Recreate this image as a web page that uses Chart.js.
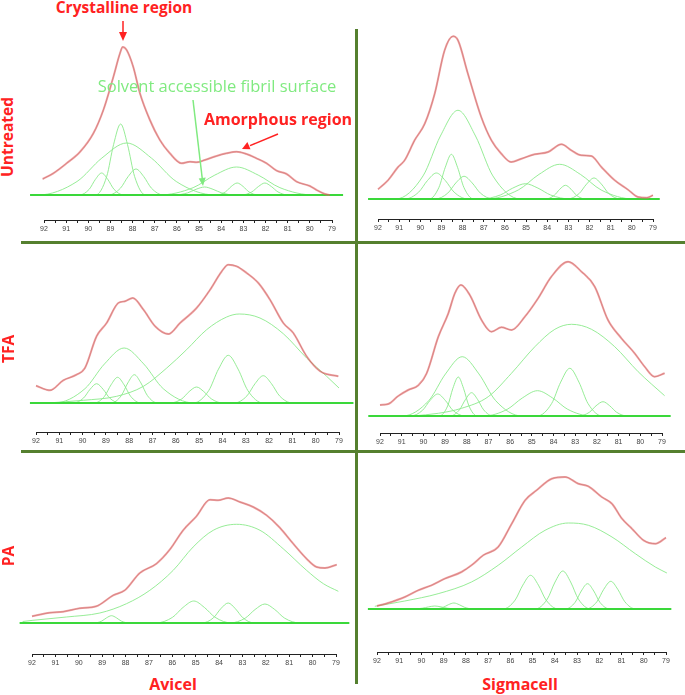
<!DOCTYPE html>
<html>
<head>
<meta charset="utf-8">
<script src="https://cdn.jsdelivr.net/npm/chart.js@4.4.0/dist/chart.umd.min.js"></script>
<style>
  body { margin: 0; background: #fff; }
  #stage { position: relative; width: 685px; height: 695px; overflow: hidden; font-family: 'Open Sans', Lato, sans-serif; }
  #stage canvas { position: absolute; }
  .lbl { position: absolute; white-space: nowrap; line-height: 1; transform: translate(-50%, -50%); z-index: 5; }
  .red { color: #ff2222; font-weight: bold; }
  .rot { transform: translate(-50%, -50%) rotate(-90deg); }
  .rule { position: absolute; background: #55802f; z-index: 4; }
  svg { position: absolute; left: 0; top: 0; z-index: 6; }
</style>
</head>
<body>
<div id="stage"></div>
<script>
/* ============================================================
   13C NMR C4 region – deconvolution of Avicel / Sigmacell
   ============================================================ */

// axis (ppm, drawn high → low)
const ppmTicks = [92, 79];
const rowLabels = ['Untreated', 'TFA', 'PA'];
const columnLabels = ['Avicel', 'Sigmacell'];

// ─── Untreated / Avicel ─────────────────────────────────
const avicelUntreatedFit = [[92.06,16],[91.58,21.7],[90.98,31.7],[90.38,43],[89.77,61.7],[89.32,85],[88.87,118],[88.57,141.7],[88.45,148],[88.27,145],[87.97,128],[87.67,101.7],[87.22,75],[86.77,55],[86.32,41.7],[85.79,31.7],[85.41,33.3],[85.11,32.7],[84.74,35],[84.21,39],[83.76,41.7],[83.31,43.3],[82.86,41],[82.41,36.7],[81.95,31.7],[81.5,24.3],[81.05,21],[80.6,13.3],[80.0,9],[79.7,5],[79.32,1],[79.1,0]];
const avicelUntreatedBase = [[92.63,0],[78.5,0]];
const avicelUntreatedPeaks = [
  [[90.68,0],[90.4,0],[89.96,5.7],[89.68,15.6],[89.4,22],[89.12,15.6],[88.84,5.7],[88.4,0],[88.12,0]],
  [[89.98,0],[89.67,0],[89.17,18.5],[88.86,50.4],[88.54,71],[88.23,50.4],[87.91,18.5],[87.42,0],[87.1,0]],
  [[92.6,0],[92.27,0],[90.51,13.5],[89.39,36.9],[88.27,52],[87.15,36.9],[86.03,13.5],[84.27,0],[83.15,0]],
  [[89.45,0],[89.1,0],[88.55,6.8],[88.2,18.5],[87.85,26],[87.5,18.5],[87.15,6.8],[86.6,0],[86.25,0]],
  [[86.51,0],[86.13,0],[85.52,2.1],[85.14,5.7],[84.75,8],[84.37,5.7],[83.98,2.1],[83.38,0],[82.99,0]],
  [[87.79,0],[86.81,0],[85.27,7.3],[84.29,19.9],[83.31,28],[82.33,19.9],[81.35,7.3],[79.81,0],[78.83,0]],
  [[84.5,0],[84.23,0],[83.81,3.1],[83.55,8.5],[83.28,12],[83.01,8.5],[82.75,3.1],[82.33,0],[82.06,0]],
  [[83.37,0],[83.08,0],[82.62,3.1],[82.32,8.5],[82.03,12],[81.74,8.5],[81.44,3.1],[80.98,0],[80.69,0]],
];

// ─── Untreated / Sigmacell ──────────────────────────────
const sigmaUntreatedFit = [[92.0,9.7],[91.53,18.7],[91.05,32],[90.74,38.7],[90.27,58.7],[89.79,75.3],[89.32,105.3],[88.85,148.7],[88.45,162.7],[88.22,158.7],[87.75,125.3],[87.12,82],[86.64,58.7],[86.17,45.3],[85.7,37],[85.22,40.3],[84.59,44.7],[83.96,47],[83.33,54.7],[82.86,48.7],[82.39,43.7],[81.92,43],[81.44,32],[80.81,18.7],[80.18,9.3],[79.71,2],[79.31,1.3],[79.0,3.7]];
const sigmaUntreatedBase = [[92.47,0],[78.68,0]];
const sigmaUntreatedPeaks = [
  [[91.16,0],[90.74,0],[90.08,6.8],[89.66,18.5],[89.24,26],[88.82,18.5],[88.4,6.8],[87.74,0],[87.32,0]],
  [[89.87,0],[89.58,0],[89.12,11.6],[88.82,31.7],[88.53,44.7],[88.24,31.7],[87.94,11.6],[87.48,0],[87.19,0]],
  [[92.0,0],[91.17,0],[89.87,23.1],[89.05,63],[88.22,88.7],[87.39,63],[86.57,23.1],[85.27,0],[84.44,0]],
  [[89.69,0],[89.31,0],[88.7,5.9],[88.32,16.1],[87.93,22.7],[87.55,16.1],[87.16,5.9],[86.56,0],[86.17,0]],
  [[87.75,0],[87.16,0],[86.22,4.0],[85.63,10.9],[85.03,15.3],[84.44,10.9],[83.84,4.0],[82.91,0],[82.31,0]],
  [[87.89,0],[86.91,0],[85.37,9.0],[84.39,24.6],[83.41,34.7],[82.43,24.6],[81.45,9.0],[79.91,0],[78.93,0]],
  [[84.36,0],[84.09,0],[83.67,3.6],[83.41,9.7],[83.14,13.7],[82.87,9.7],[82.61,3.6],[82.19,0],[81.92,0]],
  [[83.39,0],[83.04,0],[82.49,5.5],[82.14,14.9],[81.79,21],[81.44,14.9],[81.09,5.5],[80.54,0],[80.19,0]],
];

// ─── TFA / Avicel ───────────────────────────────────────
const avicelTfaFit = [[92.0,17.3],[91.4,12.7],[90.83,22.7],[90.26,28.3],[89.9,35],[89.4,66.7],[88.97,80],[88.47,100],[88.18,101.7],[87.85,105],[87.39,93.3],[86.89,76.7],[86.32,69],[85.82,80],[85.11,95],[84.53,113.3],[84.03,131.7],[83.75,138.3],[83.39,136.7],[82.96,130],[82.46,120],[81.96,103.3],[81.39,80],[80.96,70],[80.39,46.7],[79.81,31.7],[79.03,26.7]];
const avicelTfaBase = [[92.26,0],[78.38,0]];
const avicelTfaPeaks = [
  [[90.68,0],[90.4,0],[89.96,5.0],[89.68,13.7],[89.4,19.3],[89.12,13.7],[88.84,5.0],[88.4,0],[88.12,0]],
  [[89.78,0],[89.5,0],[89.06,6.7],[88.78,18.2],[88.5,25.7],[88.22,18.2],[87.94,6.7],[87.5,0],[87.22,0]],
  [[92.06,0],[91.22,0],[89.9,14.3],[89.06,39.1],[88.22,55],[87.38,39.1],[86.54,14.3],[85.22,0],[84.38,0]],
  [[89.06,0],[88.78,0],[88.34,7.4],[88.06,20.1],[87.78,28.3],[87.5,20.1],[87.22,7.4],[86.78,0],[86.5,0]],
  [[86.55,0],[86.24,0],[85.74,4.2],[85.43,11.4],[85.11,16],[84.8,11.4],[84.48,4.2],[83.99,0],[83.67,0]],
  [[91.5,0],[89.97,2.7],[88.54,6.7],[87.39,16.7],[86.39,35],[85.54,53.3],[84.68,73.3],[83.82,86],[83.28,89],[82.39,85],[81.39,69.3],[80.39,45],[79.53,26.7],[79.0,15]],
  [[85.67,0],[85.25,0],[84.59,12.4],[84.17,33.9],[83.75,47.7],[83.33,33.9],[82.91,12.4],[82.25,0],[81.83,0]],
  [[83.85,0],[83.5,0],[82.95,7.1],[82.6,19.4],[82.25,27.3],[81.9,19.4],[81.55,7.1],[81.0,0],[80.65,0]],
];

// ─── TFA / Sigmacell ────────────────────────────────────
const sigmaTfaFit = [[92.0,11],[91.62,12],[91.16,20],[90.7,26],[90.23,30.7],[89.85,42.7],[89.31,79.3],[88.85,102.7],[88.55,122.7],[88.27,131],[87.86,121],[87.32,96],[86.86,84.3],[86.4,88.7],[85.94,86],[85.32,99.3],[84.71,117.7],[84.1,139.3],[83.33,154.3],[82.71,144.3],[82.1,129.3],[81.49,96],[80.87,77.7],[80.26,62.7],[79.8,49.3],[79.34,39.3],[78.88,42.7]];
const sigmaTfaBase = [[92.54,0],[78.6,0]];
const sigmaTfaPeaks = [
  [[90.94,0],[90.59,0],[90.04,5.7],[89.69,15.6],[89.34,22],[88.99,15.6],[88.64,5.7],[88.09,0],[87.74,0]],
  [[89.51,0],[89.27,0],[88.88,10.1],[88.64,27.7],[88.39,39],[88.15,27.7],[87.9,10.1],[87.52,0],[87.27,0]],
  [[91.73,0],[90.96,0],[89.75,15.4],[88.98,42.1],[88.21,59.3],[87.44,42.1],[86.67,15.4],[85.46,0],[84.69,0]],
  [[89.06,0],[88.78,0],[88.34,6.1],[88.06,16.5],[87.78,23.3],[87.5,16.5],[87.22,6.1],[86.78,0],[86.5,0]],
  [[87.94,0],[87.24,0],[86.14,6.6],[85.44,18],[84.74,25.3],[84.04,18],[83.34,6.6],[82.24,0],[81.54,0]],
  [[90.5,0],[89.31,2.7],[88.24,7.7],[87.01,19.3],[85.94,42.7],[84.86,69.3],[83.94,86.7],[83.17,91.7],[82.25,86.7],[81.18,69.3],[80.1,44.3],[78.88,20.3]],
  [[85.17,0],[84.75,0],[84.09,12.4],[83.67,33.9],[83.25,47.7],[82.83,33.9],[82.41,12.4],[81.75,0],[81.33,0]],
  [[83.16,0],[82.85,0],[82.35,3.7],[82.04,10.2],[81.72,14.3],[81.41,10.2],[81.09,3.7],[80.6,0],[80.28,0]],
];

// ─── PA / Avicel ────────────────────────────────────────
const avicelPaFit = [[92.0,6.7],[91.24,10.3],[90.67,11.3],[89.96,14.7],[89.25,16.7],[88.53,27.7],[88.03,32.7],[87.39,50],[86.68,59.3],[86.11,73.3],[85.54,92.7],[84.97,106.7],[84.39,123.3],[84.04,122.7],[83.61,125],[83.11,121],[82.54,116],[81.97,107.7],[81.4,95.3],[80.83,79.3],[80.26,64.3],[79.83,56],[79.47,55],[78.97,58.3]];
const avicelPaBase = [[92.53,0],[78.43,0]];
const avicelPaPeaks = [
  [[92.4,1.5],[91.96,2.7],[90.53,6],[89.1,10],[87.96,19.3],[86.96,32.7],[85.96,52.7],[85.11,76],[84.25,92.7],[83.25,98.7],[82.25,92.7],[81.26,74.3],[80.26,52.7],[79.54,39.3],[78.9,31.7]],
  [[89.56,0],[89.35,0],[89.02,1.9],[88.81,5.2],[88.6,7.3],[88.39,5.2],[88.18,1.9],[87.85,0],[87.64,0]],
  [[87.16,0],[86.71,0],[85.99,5.7],[85.54,15.6],[85.08,22],[84.63,15.6],[84.17,5.7],[83.46,0],[83.0,0]],
  [[85.05,0],[84.74,0],[84.24,5.2],[83.93,14.2],[83.61,20],[83.3,14.2],[82.98,5.2],[82.49,0],[82.17,0]],
  [[83.96,0],[83.54,0],[82.88,4.9],[82.46,13.5],[82.04,19],[81.62,13.5],[81.2,4.9],[80.54,0],[80.12,0]],
];

// ─── PA / Sigmacell ─────────────────────────────────────
const sigmaPaFit = [[92.0,3],[91.5,6],[90.75,12],[90.15,18.7],[89.55,23.7],[88.95,30.3],[88.2,37],[87.75,43.7],[87.22,53.7],[86.55,62],[85.94,85.3],[85.34,108.7],[84.82,118.7],[84.14,130.3],[83.54,132],[82.94,125.3],[82.49,122.7],[81.89,112],[81.43,105.3],[80.98,90.3],[80.53,80.3],[80.01,68.7],[79.48,65.3],[79.0,71.3]];
const sigmaPaBase = [[92.41,0],[78.76,0]];
const sigmaPaPeaks = [
  [[92.1,2.7],[90.75,8],[89.25,15.3],[87.75,27],[86.55,43.7],[85.49,62],[84.44,78.7],[83.39,86],[82.49,83.7],[81.43,72],[80.38,55.3],[79.48,42],[78.96,36]],
  [[90.68,0],[90.4,0],[89.96,0.8],[89.68,2.1],[89.4,3],[89.12,2.1],[88.84,0.8],[88.4,0],[88.12,0]],
  [[89.66,0],[89.42,0],[89.03,1.6],[88.79,4.3],[88.54,6],[88.3,4.3],[88.05,1.6],[87.67,0],[87.42,0]],
  [[86.69,0],[86.34,0],[85.79,8.8],[85.44,23.9],[85.09,33.7],[84.74,23.9],[84.39,8.8],[83.84,0],[83.49,0]],
  [[85.24,0],[84.89,0],[84.34,9.9],[83.99,27],[83.64,38],[83.29,27],[82.94,9.9],[82.39,0],[82.04,0]],
  [[83.81,0],[83.53,0],[83.09,6.6],[82.81,18],[82.53,25.3],[82.25,18],[81.97,6.6],[81.53,0],[81.25,0]],
  [[82.92,0],[82.61,0],[82.11,7.2],[81.8,19.7],[81.48,27.7],[81.17,19.7],[80.85,7.2],[80.36,0],[80.04,0]],
];

// ─── Layout (pixel boxes of each panel) ─────────────────
const PAD = 18, PAD_TOP = 6, AXIS_H = 16;
const panels = [
  { fit: avicelUntreatedFit, base: avicelUntreatedBase, peaks: avicelUntreatedPeaks, box: { x92: 44,  x79: 332, axisY: 220, baseY: 195, topY: 40 } },
  { fit: sigmaUntreatedFit,  base: sigmaUntreatedBase,  peaks: sigmaUntreatedPeaks,  box: { x92: 378, x79: 653, axisY: 219, baseY: 199, topY: 30 } },
  { fit: avicelTfaFit,       base: avicelTfaBase,       peaks: avicelTfaPeaks,       box: { x92: 36,  x79: 339, axisY: 432, baseY: 403, topY: 255 } },
  { fit: sigmaTfaFit,        base: sigmaTfaBase,        peaks: sigmaTfaPeaks,        box: { x92: 380, x79: 662, axisY: 433, baseY: 416, topY: 255 } },
  { fit: avicelPaFit,        base: avicelPaBase,        peaks: avicelPaPeaks,        box: { x92: 32,  x79: 336, axisY: 654, baseY: 623, topY: 490 } },
  { fit: sigmaPaFit,         base: sigmaPaBase,         peaks: sigmaPaPeaks,         box: { x92: 377, x79: 666, axisY: 652, baseY: 609, topY: 470 } },
];

const stage = document.getElementById('stage');

function lineSet(data, color, width, order) {
  return {
    data, order,
    borderColor: color,
    borderWidth: width,
    pointRadius: 0,
    fill: false,
    clip: false,
    cubicInterpolationMode: 'monotone',
  };
}

function renderPanel(p) {
  const b = p.box;
  const canvas = document.createElement('canvas');
  canvas.width  = b.x79 - b.x92 + 2 * PAD;
  canvas.height = PAD_TOP + (b.axisY - b.topY) + AXIS_H;
  canvas.style.left = (b.x92 - PAD) + 'px';
  canvas.style.top  = (b.topY - PAD_TOP) + 'px';
  stage.appendChild(canvas);

  new Chart(canvas, {
    type: 'line',
    data: {
      datasets: [
        lineSet(p.fit, 'rgba(232,110,110,0.62)', 2, 0),
        lineSet(p.fit, 'rgba(110,60,60,0.55)', 0.8, 1),
        lineSet(p.base, '#3ad83a', 2, 2),
        ...p.peaks.map(pk => lineSet(pk, 'rgba(140,234,140,0.9)', 1, 3)),
      ],
    },
    options: {
      responsive: false,
      animation: false,
      layout: { padding: { left: PAD, right: PAD, top: PAD_TOP, bottom: 0 } },
      elements: { line: { capBezierPoints: false, borderJoinStyle: 'round' } },
      plugins: { legend: { display: false }, tooltip: { enabled: false } },
      scales: {
        x: {
          type: 'linear',
          min: ppmTicks[1], max: ppmTicks[0],
          reverse: true,
          grid: { drawOnChartArea: false, drawTicks: true, tickLength: 3, tickColor: '#222' },
          border: { display: true, color: '#222', width: 1 },
          ticks: {
            stepSize: 0.5, autoSkip: false, maxRotation: 0, padding: 2,
            color: '#444', font: { size: 7, family: 'Liberation Sans' },
            callback: v => Number.isInteger(v) ? String(v) : '',
          },
          afterFit: s => { s.height = AXIS_H; },
        },
        y: {
          display: false,
          min: -(b.axisY - b.baseY),
          max: b.baseY - b.topY,
        },
      },
    },
  });
}

panels.forEach(renderPanel);

// ─── Dividers, labels, annotations ──────────────────────
function rule(x, y, w, h) {
  const d = document.createElement('div');
  d.className = 'rule';
  Object.assign(d.style, { left: x + 'px', top: y + 'px', width: w + 'px', height: h + 'px' });
  stage.appendChild(d);
}
rule(355, 29, 3, 655);
rule(21, 241, 664, 3);
rule(21, 450, 664, 3);

function label(text, cx, cy, cls, size, color) {
  const d = document.createElement('div');
  d.className = 'lbl ' + cls;
  d.textContent = text;
  d.style.left = cx + 'px';
  d.style.top = cy + 'px';
  d.style.fontSize = size + 'px';
  if (color) d.style.color = color;
  stage.appendChild(d);
}
label(rowLabels[0], 8, 137, 'red rot', 15.5);
label(rowLabels[1], 9, 349, 'red rot', 15.5);
label(rowLabels[2], 9, 556, 'red rot', 15.5);
label(columnLabels[0], 173, 684, 'red', 16);
label(columnLabels[1], 520, 684, 'red', 16);

label('Crystalline region', 124, 8, 'red', 15.5);
label('Amorphous region', 278, 119, 'red', 16);
label('Solvent accessible fibril surface', 217, 86, '', 16.5, '#80ea80');

const svgNS = 'http://www.w3.org/2000/svg';
const svg = document.createElementNS(svgNS, 'svg');
svg.setAttribute('width', 685);
svg.setAttribute('height', 695);
svg.innerHTML = `
  <line x1="123" y1="21" x2="123" y2="33" stroke="#ff2222" stroke-width="1.5"/>
  <polygon points="123,41 119,32 127,32" fill="#ff2222"/>
  <line x1="278" y1="134" x2="250" y2="145.6" stroke="#ff2222" stroke-width="1.5"/>
  <polygon points="242,149 250.5,149.3 247.4,141.9" fill="#ff2222"/>
  <line x1="193" y1="100" x2="202.2" y2="178" stroke="#80ea80" stroke-width="1.5"/>
  <polygon points="203,186 205.7,177.6 198.7,178.4" fill="#80ea80"/>
`;
stage.appendChild(svg);
</script>
</body>
</html>
